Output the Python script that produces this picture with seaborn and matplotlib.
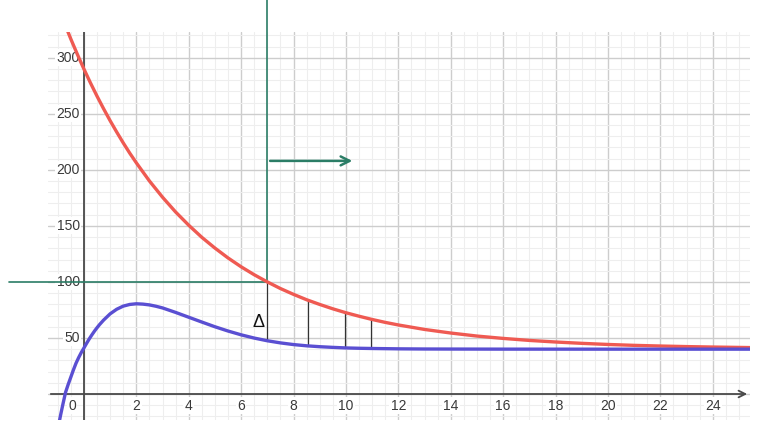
import matplotlib
matplotlib.use("Agg")
import matplotlib.pyplot as plt
import seaborn as sns
import pandas as pd
import numpy as np

# ---- data ----
red_x = [-1.0, -0.75, -0.5, -0.25, 0, 0.25, 0.5, 0.75, 1, 1.25, 1.5, 1.75, 2, 2.5, 3, 3.5, 4, 4.5, 5, 5.5, 6, 6.5,
         7, 7.5, 8, 8.5, 9, 9.5, 10, 10.5, 11, 11.5, 12, 13, 14, 15, 16, 17, 18, 19, 20, 21, 22, 23, 24, 25.5]
red_y = [346.6, 331.3, 316.8, 303.1, 290, 277.6, 265.8, 254.6, 243.9, 233.8, 224.1, 214.9, 206.3, 190.1, 175.6, 162.4,
         150.6, 139.8, 130.2, 121.4, 113.5, 106.4, 100, 94.1, 88.9, 84.1, 79.9, 76.0, 72.5, 69.4, 66.5, 63.9, 61.6,
         57.6, 54.4, 51.7, 49.6, 47.8, 46.4, 45.2, 44.2, 43.4, 42.8, 42.3, 41.9, 41.4]

blue_x = [-1.0, -0.9, -0.8, -0.7, -0.6, -0.5, -0.4, -0.3, -0.2, -0.1, 0, 0.1, 0.2, 0.3, 0.4, 0.5, 0.6, 0.75, 1,
          1.25, 1.5, 1.75, 2, 2.25, 2.5, 2.75, 3, 3.5, 4, 4.5, 5, 5.5, 6, 6.5, 7, 7.5, 8, 8.5, 9, 9.5, 10, 10.5,
          11, 12, 13, 14, 16, 20, 25.5]
blue_y = [-32, -20, -9, 1.5, 8.5, 15, 21.5, 27.5, 32.5, 37, 41, 45.1, 49.0, 52.6, 56.0, 59.1, 62.0, 65.9, 71.5,
          75.6, 78.4, 79.9, 80.5, 80.2, 79.5, 78.3, 76.8, 72.8, 68.5, 64.2, 60, 56.2, 52.8, 49.9, 47.5, 45.6, 44.1,
          43.0, 42.2, 41.6, 41.1, 40.8, 40.6, 40.3, 40.15, 40.1, 40.03, 40, 40]

x_ticks = [0, 2, 4, 6, 8, 10, 12, 14, 16, 18, 20, 22, 24]
x_labels = ["0", "2", "4", "6", "8", "10", "12", "14", "16", "18", "20", "22", "24"]
y_ticks = [50, 100, 150, 200, 250, 300]
y_labels = ["50", "100", "150", "200", "250", "300"]

# difference segments between the curves
seg_x = [7.0, 8.55, 9.96, 10.95]
seg_top = [100, 83.7, 72.8, 66.8]
seg_bot = [47.5, 42.9, 41.1, 40.6]

marker_x = 7.0
marker_y = 100
arrow_y = 208
arrow_end = 10.35

sns.set_theme(style="white")
plt.rcParams['font.family'] = ['Liberation Sans', 'DejaVu Sans']

fig = plt.figure(figsize=(7.68, 4.32), dpi=100)
ax = fig.add_axes([48/768, 12/432, (750-48)/768, (420-32)/432])
xmin, xmax = -1.37, 25.42
ymin, ymax = -23.2, 323
ax.set_xlim(xmin, xmax)
ax.set_ylim(ymin, ymax)
for s in ax.spines.values():
    s.set_visible(False)
ax.set_xticks([]); ax.set_yticks([])

# grid
for gx in np.arange(-1.0, 25.5, 0.5):
    major = abs(gx / 2 - round(gx / 2)) < 1e-9
    ax.axvline(gx, color="#cdcdcd" if major else "#eeeeee", lw=1.0 if major else 0.8, zorder=0)
for gy in np.arange(-20, 330, 10):
    major = gy % 50 == 0
    ax.axhline(gy, color="#cdcdcd" if major else "#eeeeee", lw=1.0 if major else 0.8, zorder=0)

# axes
ax.axvline(0, color="#4a4a4a", lw=1.3, zorder=1)
ax.annotate("", xy=(xmax, 0), xytext=(xmin, 0),
            arrowprops=dict(arrowstyle="->", color="#4a4a4a", lw=1.3, mutation_scale=12),
            zorder=1)

# tick labels
for t, lab in zip(x_ticks, x_labels):
    xpos = -0.45 if t == 0 else t
    ax.text(xpos, -10.5, lab, ha="center", va="center", fontsize=10, color="#3a3a3a",
            bbox=dict(boxstyle="square,pad=0.1", fc="white", ec="none"), zorder=2)
for t, lab in zip(y_ticks, y_labels):
    ax.text(-0.15, t, lab, ha="right", va="center", fontsize=10, color="#3a3a3a",
            bbox=dict(boxstyle="square,pad=0.1", fc="white", ec="none"), zorder=2)

# curves
df_r = pd.DataFrame({"x": red_x, "y": red_y})
df_b = pd.DataFrame({"x": blue_x, "y": blue_y})
sns.lineplot(data=df_r, x="x", y="y", ax=ax, color="#ef5a52", lw=2.4, sort=False, zorder=4)
sns.lineplot(data=df_b, x="x", y="y", ax=ax, color="#5a4fd2", lw=2.4, sort=False, zorder=4)
ax.set_xlabel(""); ax.set_ylabel("")
ax.set_xlim(xmin, xmax)
ax.set_ylim(ymin, ymax)

# difference segments
for sx, st, sb in zip(seg_x, seg_top, seg_bot):
    ax.plot([sx, sx], [sb, st], color="#333333", lw=0.9, zorder=3)

# green guide lines (extend beyond the grid)
green = "#2b7d66"
ax.plot([marker_x, marker_x], [marker_y, 352], color=green, lw=1.2, zorder=3, clip_on=False)
ax.plot([-2.84, marker_x], [marker_y, marker_y], color=green, lw=1.2, zorder=3, clip_on=False)
ax.annotate("", xy=(arrow_end, arrow_y), xytext=(marker_x, arrow_y),
            arrowprops=dict(arrowstyle="->", color=green, lw=1.8, mutation_scale=16), zorder=5)

ax.text(6.68, 64, "Δ", ha="center", va="center", fontsize=13, color="#111111", zorder=5)

fig.savefig("out.png", dpi=100)
